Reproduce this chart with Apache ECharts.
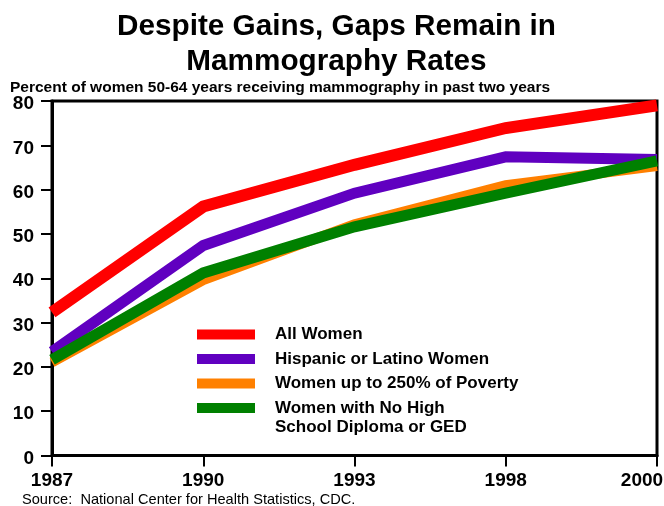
<!DOCTYPE html>
<html>
<head>
<meta charset="utf-8">
<script src="https://cdn.jsdelivr.net/npm/echarts@6/dist/echarts.min.js"></script>
<style>
  html, body { margin: 0; padding: 0; background: #fff; }
  #chart { width: 664px; height: 506px; }
</style>
</head>
<body>
<div id="chart"></div>
<script>
// Survey years (evenly spaced categories on the x axis)
const years = ['1987', '1990', '1993', '1998', '2000'];

// Percent of women 50-64 with a mammogram in the past two years
const allWomen = [32.3, 56.2, 65.6, 73.9, 79.0];
const hispanicWomen = [23.4, 47.4, 59.2, 67.4, 66.8];
const povertyWomen = [21.0, 39.6, 52.2, 61.0, 65.3];
const noDiplomaWomen = [21.6, 41.2, 51.6, 59.2, 66.5];

const seriesNames = [
  'All Women',
  'Hispanic or Latino Women',
  'Women up to 250% of Poverty',
  'Women with No High\nSchool Diploma or GED'
];
const seriesColors = ['#ff0000', '#6000c0', '#ff8000', '#008000'];
const seriesData = [allWomen, hispanicWomen, povertyWomen, noDiplomaWomen];
const lineWidths = [12, 11, 10, 11];

const FONT = '"Liberation Sans", Arial, Helvetica, sans-serif';

const chart = echarts.init(document.getElementById('chart'));

chart.setOption({
  animation: false,
  backgroundColor: '#ffffff',
  textStyle: { fontFamily: FONT },
  title: [
    {
      text: 'Despite Gains, Gaps Remain in\nMammography Rates',
      left: 331.5,
      top: 4,
      textAlign: 'center',
      textStyle: { fontFamily: FONT, fontSize: 29.7, fontWeight: 'bold', color: '#000', lineHeight: 35 }
    },
    {
      text: 'Percent of women 50-64 years receiving mammography in past two years',
      left: 5,
      top: 75,
      textStyle: { fontFamily: FONT, fontSize: 15.5, fontWeight: 'bold', color: '#000' }
    },
    {
      text: 'Source:  National Center for Health Statistics, CDC.',
      left: 17,
      top: 487,
      textStyle: { fontFamily: FONT, fontSize: 14.6, fontWeight: 'normal', color: '#000' }
    }
  ],
  grid: {
    left: 52, right: 7, top: 101, bottom: 50.5,
    outerBoundsMode: 'none',
    containLabel: false,
    show: true, borderColor: '#000', borderWidth: 3, backgroundColor: 'transparent'
  },
  legend: {
    orient: 'vertical',
    left: 192,
    top: 321,
    icon: 'rect',
    itemWidth: 58,
    itemHeight: 10,
    itemGap: 7.5,
    data: seriesNames,
    formatter: name => name.split('\n')[0],
    textStyle: {
      fontFamily: FONT, fontSize: 17, fontWeight: 'bold', color: '#000',
      lineHeight: 15, padding: [0, 0, 0, 15]
    }
  },
  graphic: [
    {
      type: 'text',
      left: 275,
      top: 419,
      style: {
        text: seriesNames[3].split('\n')[1],
        font: 'bold 17px ' + FONT,
        fill: '#000'
      }
    }
  ],
  xAxis: {
    type: 'category',
    data: years,
    boundaryGap: false,
    axisLine: { lineStyle: { color: '#000', width: 3 } },
    axisTick: { length: 11, lineStyle: { color: '#000', width: 2 } },
    axisLabel: {
      color: '#000', fontFamily: FONT, fontSize: 19, fontWeight: 'bold', margin: 16,
      formatter: (v, i) => i === years.length - 1 ? '{last|' + v + '}' : v,
      rich: {
        last: { fontFamily: FONT, fontSize: 19, fontWeight: 'bold', color: '#000', padding: [0, 30, 0, 0] }
      }
    },
    splitLine: { show: false }
  },
  yAxis: {
    type: 'value',
    min: 0, max: 80, interval: 10,
    axisLine: { show: true, lineStyle: { color: '#000', width: 3 } },
    axisTick: { show: true, length: 11, lineStyle: { color: '#000', width: 2 } },
    axisLabel: {
      color: '#000', fontFamily: FONT, fontSize: 19, fontWeight: 'bold', margin: 18,
      formatter: '{v|{value}}',
      rich: {
        v: { fontFamily: FONT, fontSize: 19, fontWeight: 'bold', color: '#000', padding: [6, 0, 0, 0] }
      }
    },
    splitLine: { show: false }
  },
  series: seriesNames.map((name, i) => ({
    name: name,
    type: 'line',
    data: seriesData[i],
    symbol: 'none',
    color: seriesColors[i],
    lineStyle: { width: lineWidths[i], color: seriesColors[i], join: 'miter', cap: 'butt' },
    emphasis: { disabled: true },
    z: 2 + i
  }))
});
</script>
</body>
</html>
